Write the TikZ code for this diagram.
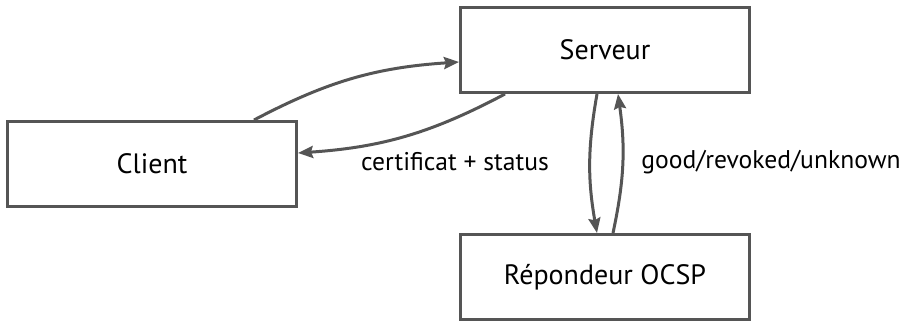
\documentclass[tikz,border=0pt]{standalone}
\usepackage{fontspec}
\setmainfont{PT Sans}
\usetikzlibrary{arrows.meta}

\definecolor{trait}{HTML}{555555}

\tikzset{
  boite/.style={draw=trait, line width=1.5pt, minimum width=144.5pt, minimum height=42.5pt,
    inner sep=0pt, font=\fontsize{14}{17}\selectfont},
  fleche/.style={draw=trait, line width=1.5pt, -{Stealth[length=7.5pt,width=6pt,inset=1pt]}},
  legende/.style={font=\fontsize{12.8}{15}\selectfont}
}

\begin{document}
\begin{tikzpicture}[x=0.5pt, y=-0.5pt]
        \useasboundingbox (0, 0) rectangle (905, 322);

        % les trois acteurs
        \node[boite] (client) at (152, 164) {Client};
        \node[boite] (serveur) at (605, 50) {Serveur};
        \node[boite] (ocsp) at (605, 277) {Répondeur OCSP};

        % client <-> serveur
        \draw[fleche] ([xshift=-22pt]client.north east) to[bend left=12] ([yshift=-6pt]serveur.west);
        \draw[fleche] ([xshift=23pt]serveur.south west) to[bend left=12] ([yshift=5.5pt]client.east);
        \node[legende] (certif) at (455, 162) {certificat + status};

        % serveur <-> repondeur
        \draw[fleche] ([xshift=-4pt]serveur.south) to[bend right=10] ([xshift=-4pt]ocsp.north);
        \draw[fleche] ([xshift=4pt]ocsp.north) to[bend right=10] ([xshift=6.5pt]serveur.south);
        \node[legende] (reponse) at (771, 162) {good/revoked/unknown};

      \end{tikzpicture}
\end{document}
